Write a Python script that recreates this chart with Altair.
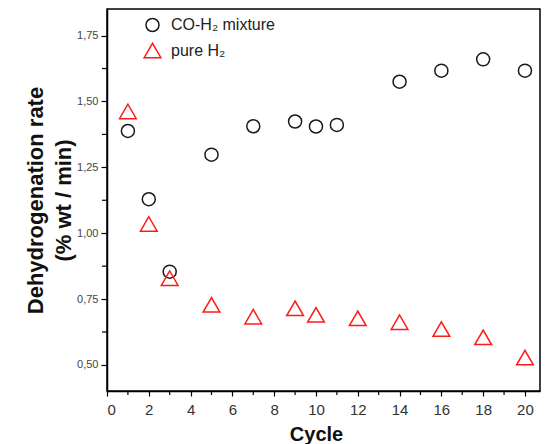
import altair as alt
import pandas as pd

cycles_co = [1, 2, 3, 5, 7, 9, 10, 11, 14, 16, 18, 20]
rate_co = [1.388, 1.129, 0.854, 1.298, 1.406, 1.424, 1.405, 1.411, 1.575, 1.617, 1.660, 1.617]
cycles_h2 = [1, 2, 3, 5, 7, 9, 10, 12, 14, 16, 18, 20]
rate_h2 = [1.462, 1.035, 0.829, 0.728, 0.683, 0.715, 0.690, 0.677, 0.662, 0.636, 0.605, 0.528]
series_names = ["CO-H\u2082 mixture", "pure H\u2082"]

x_major = [0, 2, 4, 6, 8, 10, 12, 14, 16, 18, 20]
x_minor = [1, 3, 5, 7, 9, 11, 13, 15, 17, 19]
y_major = [0.50, 0.75, 1.00, 1.25, 1.50, 1.75]
y_minor = [0.625, 0.875, 1.125, 1.375, 1.625]

df = pd.DataFrame(
    {"Cycle": cycles_co + cycles_h2,
     "Rate": rate_co + rate_h2,
     "Series": [series_names[0]] * len(cycles_co) + [series_names[1]] * len(cycles_h2)}
)

W, H = 433, 382
xs = alt.Scale(domain=[0, 20.72], nice=False, zero=False)
ys = alt.Scale(domain=[0.401, 1.851], nice=False, zero=False)

leg = alt.Legend(title=None, orient="none", legendX=36, legendY=8,
                 symbolSize=130, symbolStrokeWidth=1.5, labelFontSize=16,
                 labelColor="#222222", labelOffset=9, rowPadding=5, padding=0)

points = alt.Chart(df).mark_point(filled=False, strokeWidth=1.5, opacity=1).encode(
    x=alt.X("Cycle:Q", scale=xs,
            axis=alt.Axis(values=x_major, format="d", title="Cycle", tickSize=5,
                          labelPadding=6, labelFontSize=15, labelColor="#333333",
                          titleFontSize=20, titleFontWeight="bold", titleColor="#111111",
                          titleX=209, titleY=49, titleBaseline="alphabetic", titleAlign="center")),
    y=alt.Y("Rate:Q", scale=ys,
            axis=alt.Axis(values=y_major, labelExpr="replace(format(datum.value, '.2f'), '.', ',')",
                          title=["Dehydrogenation rate", "(% wt / min)"], tickSize=6,
                          labelPadding=3, labelFontSize=11, labelColor="#444444",
                          titleFontSize=22, titleFontWeight="bold", titleColor="#111111",
                          titleLineHeight=28, titleAngle=270, titleX=-72, titleY=191,
                          titleAlign="center", titleBaseline="middle")),
    color=alt.Color("Series:N", scale=alt.Scale(domain=series_names, range=["#1a1a1a", "#ff1a1a"]),
                    legend=leg),
    shape=alt.Shape("Series:N", scale=alt.Scale(domain=series_names, range=["circle", "triangle-up"]),
                    legend=leg),
    size=alt.Size("Series:N", scale=alt.Scale(domain=series_names, range=[170, 280]), legend=None),
)

xminor = alt.Chart(pd.DataFrame({"v": x_minor})).mark_rule(color="black", strokeWidth=1.2).encode(
    x=alt.X("v:Q", scale=xs), y=alt.value(H), y2=alt.value(H + 4)
)
yminor = alt.Chart(pd.DataFrame({"v": y_minor})).mark_rule(color="black", strokeWidth=1.2).encode(
    y=alt.Y("v:Q", scale=ys), x=alt.value(0), x2=alt.value(-5)
)

chart = alt.layer(points, xminor, yminor).properties(
    width=W, height=H,
    autosize=alt.AutoSizeParams(type="none"),
    padding={"left": 99, "top": 1, "right": 3, "bottom": 53},
    background="white",
).configure_view(stroke="black", strokeWidth=1.5).configure_axis(
    domainColor="black", domainWidth=1.5, tickColor="black", tickWidth=1.2, grid=False,
    labelFont="Liberation Sans", titleFont="Liberation Sans"
).configure_legend(labelFont="Liberation Sans")

chart.save("out.html", embed_options={"renderer": "svg", "actions": False})
